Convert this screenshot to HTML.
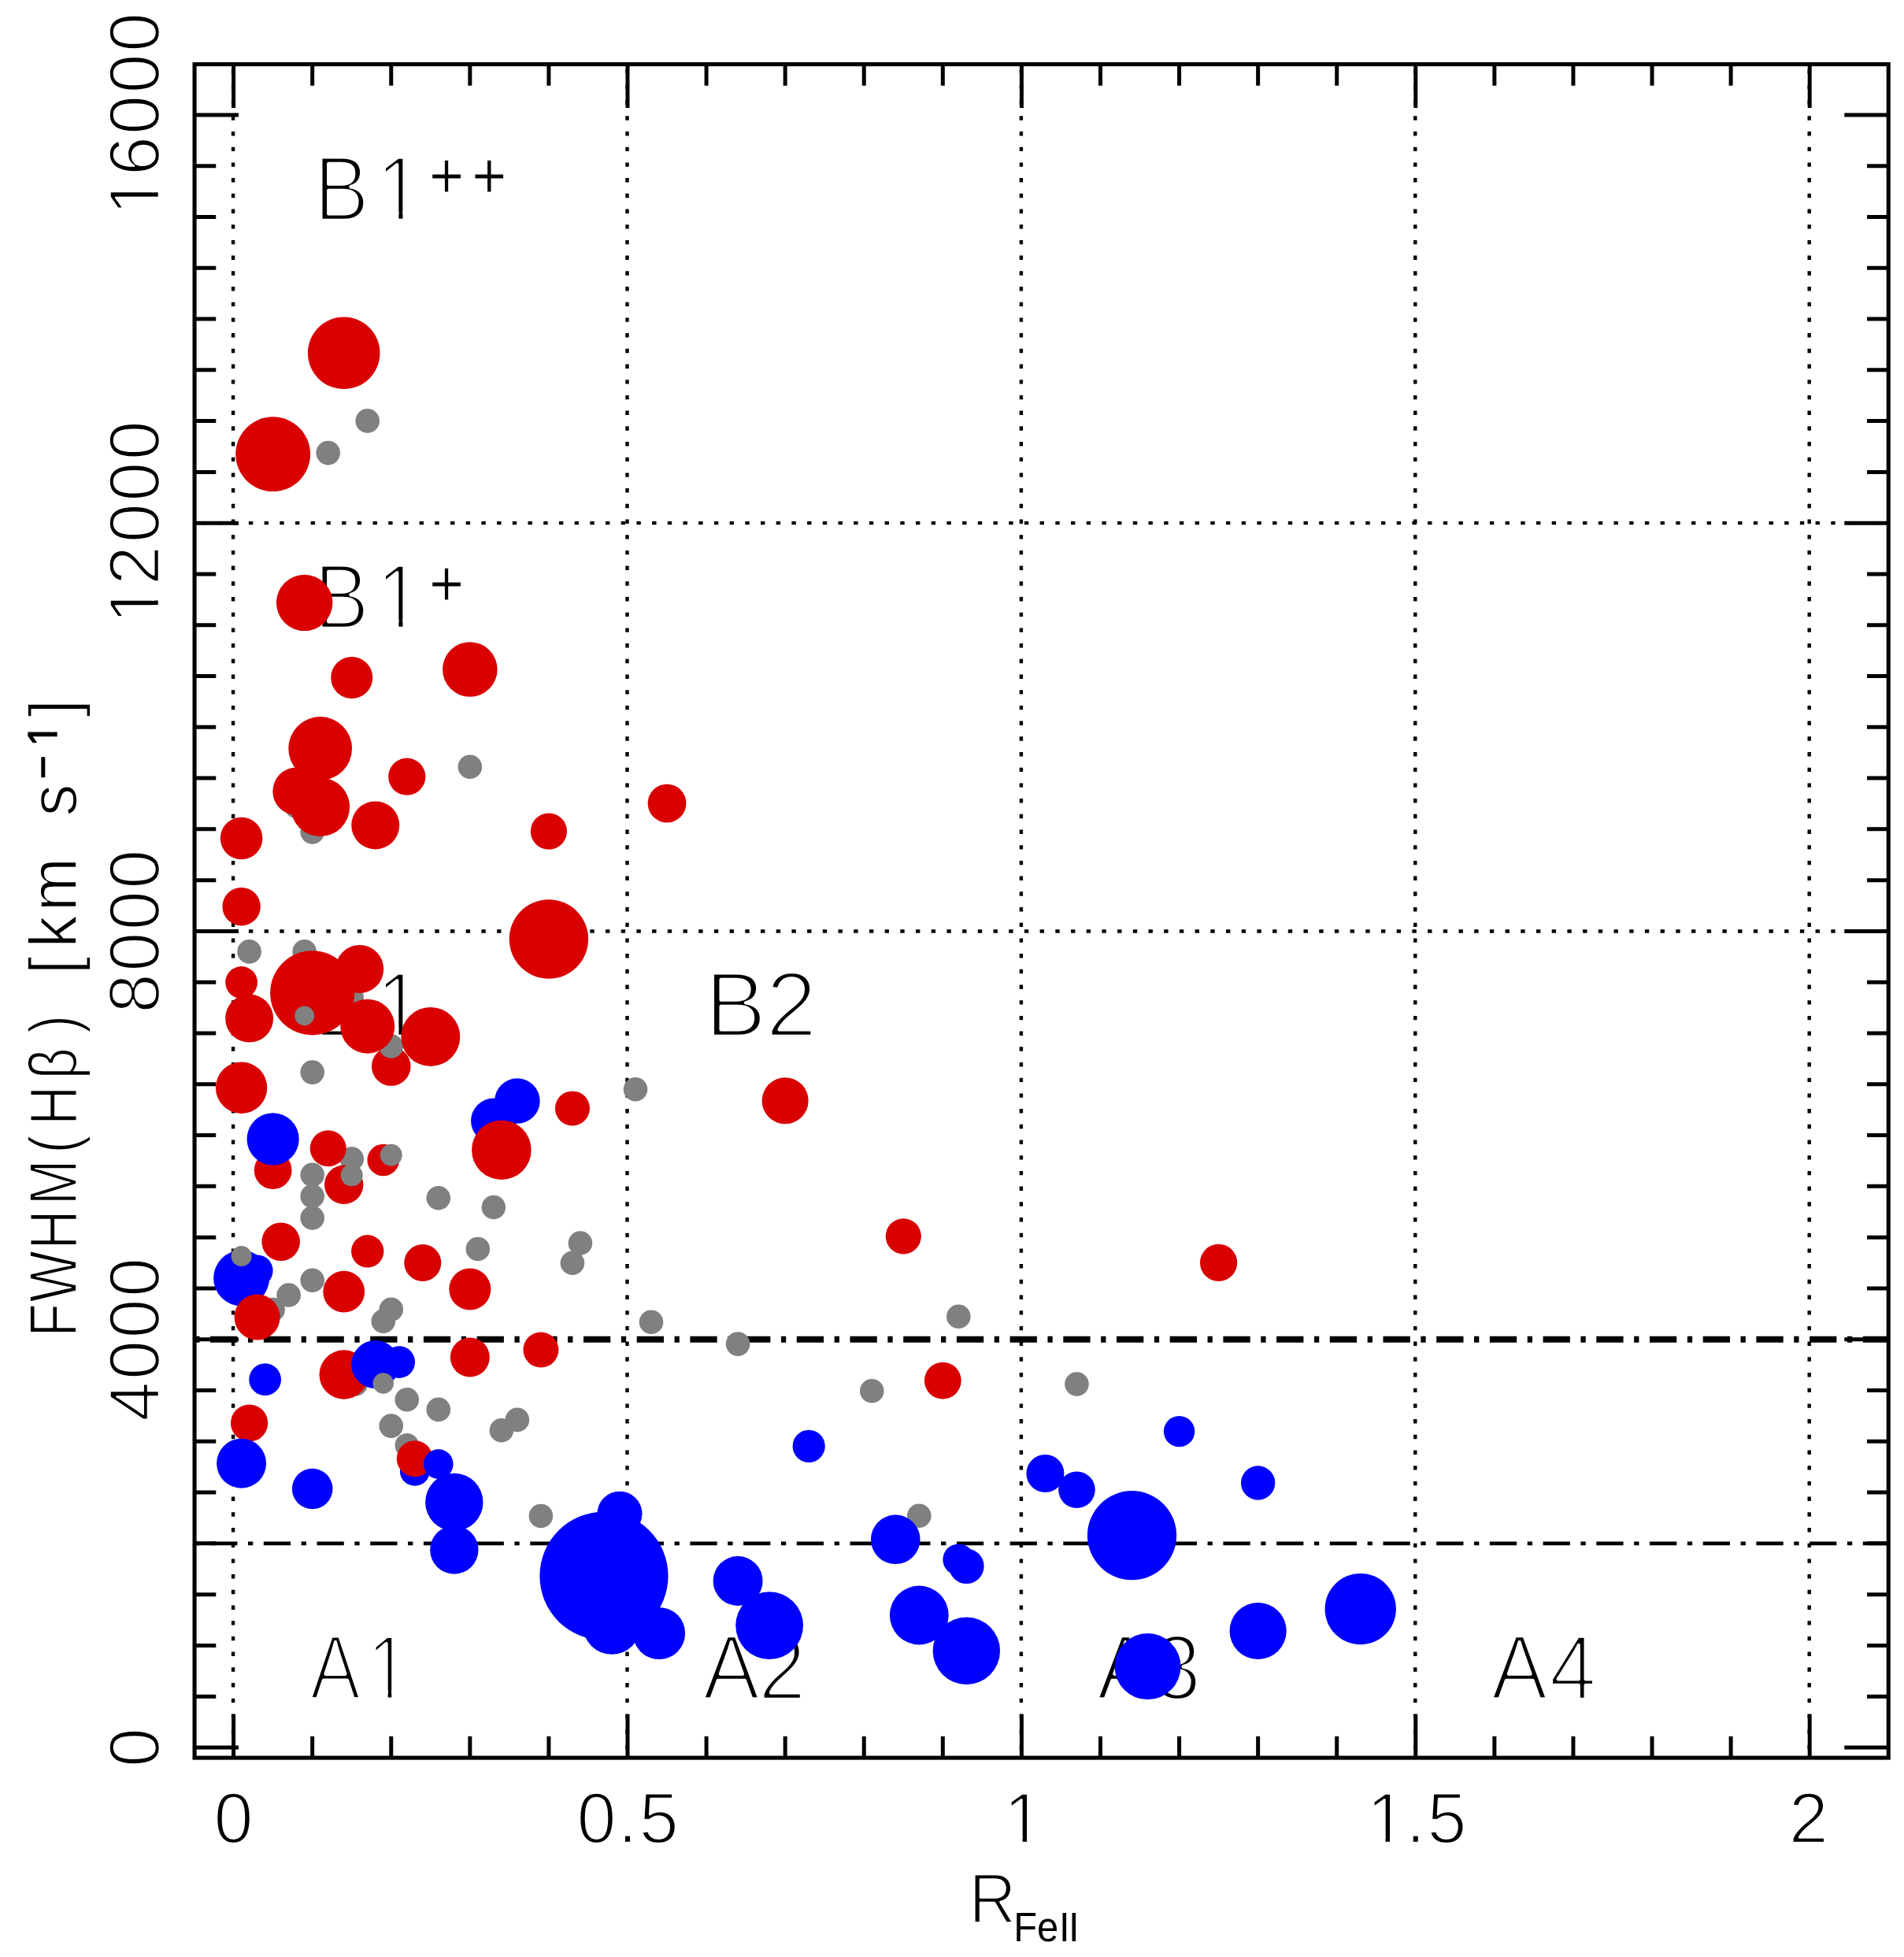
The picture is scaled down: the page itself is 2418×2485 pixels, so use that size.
<!DOCTYPE html>
<html lang="en"><head><meta charset="utf-8"><title>FWHM(Hβ) versus RFeII</title>
<style>
html,body{margin:0;padding:0;background:#fff;overflow:hidden}
svg{display:block}
text{font-family:"Liberation Sans",sans-serif;fill:#000;stroke-linejoin:round;white-space:pre}
.dot{fill:none;stroke:#000;stroke-width:4.4;stroke-dasharray:5.4 14.3}
.dd{fill:none;stroke:#000;stroke-dasharray:34.3 13.55 6.3 13.55}
</style></head>
<body>
<svg width="2418" height="2485" viewBox="0 0 2418 2485">
<rect width="2418" height="2485" fill="#fff"/>
<defs><mask id="m0" maskUnits="userSpaceOnUse" x="333.76" y="-175.29" width="403.33" height="257.09"><rect x="333.76" y="-175.29" width="403.33" height="257.09" fill="#fff"/><rect x="567.71" y="-11.74" width="25.89" height="17.55"/><rect x="599.11" y="-11.74" width="24.98" height="17.55"/></mask><mask id="m1" maskUnits="userSpaceOnUse" x="302.89" y="-175.29" width="403.34" height="257.09"><rect x="302.89" y="-175.29" width="403.34" height="257.09" fill="#fff"/><rect x="536.85" y="-11.65" width="25.8" height="17.37"/><rect x="568.34" y="-11.65" width="24.89" height="17.37"/></mask><mask id="m2" maskUnits="userSpaceOnUse" x="302.89" y="-175.29" width="478.09" height="257.09"><rect x="302.89" y="-175.29" width="478.09" height="257.09" fill="#fff"/><rect x="536.85" y="-11.65" width="25.8" height="17.37"/><rect x="568.34" y="-11.65" width="24.89" height="17.37"/></mask><mask id="m3" maskUnits="userSpaceOnUse" x="302.89" y="-175.29" width="538.31" height="257.09"><rect x="302.89" y="-175.29" width="538.31" height="257.09" fill="#fff"/><rect x="536.85" y="-11.65" width="25.8" height="17.37"/><rect x="568.34" y="-11.65" width="24.89" height="17.37"/></mask><mask id="m4" maskUnits="userSpaceOnUse" x="1166.68" y="-135" width="243" height="198"><rect x="1166.68" y="-135" width="243" height="198" fill="#fff"/><rect x="1278.53" y="-8.57" width="20.03" height="13.22"/><rect x="1304.01" y="-8.57" width="19.32" height="13.22"/></mask><mask id="m5" maskUnits="userSpaceOnUse" x="1627.63" y="-135" width="319.98" height="198"><rect x="1627.63" y="-135" width="319.98" height="198" fill="#fff"/><rect x="1739.48" y="-8.57" width="20.03" height="13.22"/><rect x="1764.96" y="-8.57" width="19.32" height="13.22"/></mask><mask id="m6" maskUnits="userSpaceOnUse" x="2100.12" y="-135" width="450.69" height="198"><rect x="2100.12" y="-135" width="450.69" height="198" fill="#fff"/><rect x="2211.97" y="-8.57" width="20.03" height="13.22"/><rect x="2237.45" y="-8.57" width="19.32" height="13.22"/></mask><mask id="m7" maskUnits="userSpaceOnUse" x="2618.4" y="-135" width="450.69" height="198"><rect x="2618.4" y="-135" width="450.69" height="198" fill="#fff"/><rect x="2730.25" y="-8.57" width="20.03" height="13.22"/><rect x="2755.73" y="-8.57" width="19.32" height="13.22"/></mask><mask id="m8" maskUnits="userSpaceOnUse" x="1830.01" y="-126.67" width="357.76" height="185.78"><rect x="1830.01" y="-126.67" width="357.76" height="185.78" fill="#fff"/><rect x="2024.26" y="-30.17" width="11.49" height="9.32"/><rect x="2041.78" y="-30.17" width="11.08" height="9.32"/></mask></defs>
<g id="labels">
<text transform="translate(0 2157.6) scale(0.83 1)" font-size="116.86" x="474 561.8" stroke="#fff" stroke-width="4.82" mask="url(#m0)">A1</text>
<text transform="translate(0 2157.6) scale(0.93 1)" font-size="116.86" x="959.66 1035.6" stroke="#fff" stroke-width="4.56">A2</text>
<text transform="translate(0 2157.6) scale(0.93 1)" font-size="116.86" x="1497.73 1574.92" stroke="#fff" stroke-width="4.56">A3</text>
<text transform="translate(0 2157.6) scale(0.92 1)" font-size="116.86" x="2058.34 2138.67" stroke="#fff" stroke-width="4.59">A4</text>
<text transform="translate(0 1316.4) scale(0.9 1)" font-size="116.86" x="443.13 530.94" stroke="#fff" stroke-width="4.64" mask="url(#m1)">B1</text>
<text transform="translate(0 1316.4) scale(1 1)" font-size="116.86" x="895.15 972.48" stroke="#fff" stroke-width="4.4">B2</text>
<text transform="translate(0 797.8) scale(0.9 1)" font-size="116.86" x="443.13 530.94" stroke="#fff" stroke-width="4.64" mask="url(#m2)">B1<tspan font-size="84" x="605.69" y="-29.27" stroke-width="1.1">+</tspan></text>
<text transform="translate(0 279.8) scale(0.9 1)" font-size="116.86" x="443.13 530.94" stroke="#fff" stroke-width="4.64" mask="url(#m3)">B1<tspan font-size="84" x="605.69 665.92" y="-29.27" stroke-width="1.1">++</tspan></text>
<text transform="translate(0 2339.85) scale(1 1)" font-size="90" x="271.57" stroke="#fff" stroke-width="2.5">0</text>
<text transform="translate(0 2339.85) scale(1 1)" font-size="90" x="732.52 784.5 811.81" stroke="#fff" stroke-width="2.5">0.5</text>
<text transform="translate(0 2339.85) scale(1 1)" font-size="90" x="1274.68" stroke="#fff" stroke-width="2.5" mask="url(#m4)">1</text>
<text transform="translate(0 2339.85) scale(1 1)" font-size="90" x="1735.63 1785.3 1812.61" stroke="#fff" stroke-width="2.5" mask="url(#m5)">1.5</text>
<text transform="translate(0 2339.85) scale(1 1)" font-size="90" x="2271.82" stroke="#fff" stroke-width="2.5">2</text>
<text transform="translate(0 2440.9) scale(0.93 1)" font-size="89.24" x="1323.12" stroke="#fff" stroke-width="2.7">R<tspan font-size="52.62" x="1384.22 1416.01 1446.19 1459.09" y="23.9" stroke="none">FeII</tspan></text>
<g transform="rotate(-90)">
<text transform="translate(-3000 202.25) scale(1 1)" font-size="90" x="755.97" stroke="#fff" stroke-width="2.5">0</text>
<text transform="translate(-3000 202.25) scale(1 1)" font-size="90" x="1195.29 1248 1300.5 1353" stroke="#fff" stroke-width="2.5">4000</text>
<text transform="translate(-3000 202.25) scale(1 1)" font-size="90" x="1713.58 1766.28 1818.78 1871.28" stroke="#fff" stroke-width="2.5">8000</text>
<text transform="translate(-3000 202.25) scale(1 1)" font-size="90" x="2208.12 2256.96 2310.81 2363.31 2415.81" stroke="#fff" stroke-width="2.5" mask="url(#m6)">12000</text>
<text transform="translate(-3000 202.25) scale(1 1)" font-size="90" x="2726.4 2776.99 2829.09 2881.59 2934.09" stroke="#fff" stroke-width="2.5" mask="url(#m7)">16000</text>
<text transform="translate(-2460 96.55) scale(0.82 1)" font-size="84.45" x="929.75 983.52 1065.28 1133.91 1213.99 1257.54 1329.09 1400.14" stroke="#fff" stroke-width="1.88">FWHM(Hβ)</text>
<text transform="translate(-2910 96.55) scale(0.97 1)" font-size="84.45" x="1724.56 1759.23 1806.92" stroke="#fff" stroke-width="1.73">[km</text>
<text transform="translate(-2910 96.55) scale(0.97 1)" font-size="84.45" x="1931.35" stroke="#fff" stroke-width="1.83" mask="url(#m8)">s<tspan font-size="52.42" x="1980.45 2023.26" y="-24.95" stroke="#000" stroke-width="1.3">−1</tspan><tspan x="2061.1" y="0">]</tspan></text>
</g>
</g>
<g id="axes">
<path d="M296.1 81.6V2232.05" class="dot" stroke-dashoffset="-6.6"/>
<path d="M796.5 81.6V2232.05" class="dot" stroke-dashoffset="-6.6"/>
<path d="M1296.9 81.6V2232.05" class="dot" stroke-dashoffset="-6.6"/>
<path d="M1797.3 81.6V2232.05" class="dot" stroke-dashoffset="-6.6"/>
<path d="M2297.7 81.6V2232.05" class="dot" stroke-dashoffset="-6.6"/>
<path d="M247.05 1182.44H2398.25" class="dot" stroke-dashoffset="-9.75"/>
<path d="M247.05 664.16H2398.25" class="dot" stroke-dashoffset="-9.75"/>
<path d="M247.05 1700.72H2398.25" class="dd" stroke-width="8" stroke-dashoffset="-20.05"/>
<path d="M247.05 1959.86H2398.25" class="dd" stroke-width="4.8" stroke-dashoffset="-20.05"/>
<path d="M296.6 81.6v55.3M296.6 2232.05v-55.3M396.68 81.6v27.2M396.68 2232.05v-27.2M496.76 81.6v27.2M496.76 2232.05v-27.2M596.84 81.6v27.2M596.84 2232.05v-27.2M696.92 81.6v27.2M696.92 2232.05v-27.2M797 81.6v55.3M797 2232.05v-55.3M897.08 81.6v27.2M897.08 2232.05v-27.2M997.16 81.6v27.2M997.16 2232.05v-27.2M1097.24 81.6v27.2M1097.24 2232.05v-27.2M1197.32 81.6v27.2M1197.32 2232.05v-27.2M1297.4 81.6v55.3M1297.4 2232.05v-55.3M1397.48 81.6v27.2M1397.48 2232.05v-27.2M1497.56 81.6v27.2M1497.56 2232.05v-27.2M1597.64 81.6v27.2M1597.64 2232.05v-27.2M1697.72 81.6v27.2M1697.72 2232.05v-27.2M1797.8 81.6v55.3M1797.8 2232.05v-55.3M1897.88 81.6v27.2M1897.88 2232.05v-27.2M1997.96 81.6v27.2M1997.96 2232.05v-27.2M2098.04 81.6v27.2M2098.04 2232.05v-27.2M2198.12 81.6v27.2M2198.12 2232.05v-27.2M2298.2 81.6v55.3M2298.2 2232.05v-55.3M247.05 2219h56M2398.25 2219h-56M247.05 2154.22h27.2M2398.25 2154.22h-27.2M247.05 2089.43h27.2M2398.25 2089.43h-27.2M247.05 2024.64h27.2M2398.25 2024.64h-27.2M247.05 1959.86h27.2M2398.25 1959.86h-27.2M247.05 1895.08h27.2M2398.25 1895.08h-27.2M247.05 1830.29h27.2M2398.25 1830.29h-27.2M247.05 1765.51h27.2M2398.25 1765.51h-27.2M247.05 1700.72h56M2398.25 1700.72h-56M247.05 1635.93h27.2M2398.25 1635.93h-27.2M247.05 1571.15h27.2M2398.25 1571.15h-27.2M247.05 1506.37h27.2M2398.25 1506.37h-27.2M247.05 1441.58h27.2M2398.25 1441.58h-27.2M247.05 1376.8h27.2M2398.25 1376.8h-27.2M247.05 1312.01h27.2M2398.25 1312.01h-27.2M247.05 1247.22h27.2M2398.25 1247.22h-27.2M247.05 1182.44h56M2398.25 1182.44h-56M247.05 1117.65h27.2M2398.25 1117.65h-27.2M247.05 1052.87h27.2M2398.25 1052.87h-27.2M247.05 988.09h27.2M2398.25 988.09h-27.2M247.05 923.3h27.2M2398.25 923.3h-27.2M247.05 858.52h27.2M2398.25 858.52h-27.2M247.05 793.73h27.2M2398.25 793.73h-27.2M247.05 728.95h27.2M2398.25 728.95h-27.2M247.05 664.16h56M2398.25 664.16h-56M247.05 599.38h27.2M2398.25 599.38h-27.2M247.05 534.59h27.2M2398.25 534.59h-27.2M247.05 469.81h27.2M2398.25 469.81h-27.2M247.05 405.02h27.2M2398.25 405.02h-27.2M247.05 340.24h27.2M2398.25 340.24h-27.2M247.05 275.45h27.2M2398.25 275.45h-27.2M247.05 210.67h27.2M2398.25 210.67h-27.2M247.05 145.88h56M2398.25 145.88h-56" fill="none" stroke="#000" stroke-width="5"/>
<rect x="247.05" y="81.6" width="2151.2" height="2150.45" fill="none" stroke="#000" stroke-width="5.1"/>
</g>
<g id="points">
<g fill="#d90000"><circle cx="496.76" cy="1354" r="24.8"/></g>
<g fill="#808080"><circle cx="466.74" cy="534.4" r="15.3"/><circle cx="416.7" cy="575.1" r="15.3"/><circle cx="596.84" cy="973.8" r="15.3"/><circle cx="396.68" cy="1056.5" r="15.3"/><circle cx="376.66" cy="1024" r="15.3"/><circle cx="316.62" cy="1208.4" r="15.3"/><circle cx="386.67" cy="1208.4" r="15.3"/><circle cx="446.72" cy="1267" r="15.3"/><circle cx="396.68" cy="1361.6" r="15.3"/><circle cx="446.72" cy="1471.5" r="15.3"/><circle cx="396.68" cy="1491.7" r="15.3"/><circle cx="396.68" cy="1519" r="15.3"/><circle cx="396.68" cy="1546.5" r="15.3"/><circle cx="556.81" cy="1521.2" r="15.3"/><circle cx="626.86" cy="1533" r="15.3"/><circle cx="606.85" cy="1586" r="15.3"/><circle cx="736.95" cy="1578.5" r="15.3"/><circle cx="726.94" cy="1603.7" r="15.3"/><circle cx="396.68" cy="1625.7" r="15.3"/><circle cx="366.66" cy="1644.5" r="15.3"/><circle cx="346.64" cy="1663" r="15.3"/><circle cx="496.76" cy="1662.7" r="15.3"/><circle cx="486.75" cy="1677.8" r="15.3"/><circle cx="516.78" cy="1777.2" r="15.3"/><circle cx="556.81" cy="1789.9" r="15.3"/><circle cx="496.76" cy="1810.6" r="15.3"/><circle cx="516.78" cy="1835.3" r="15.3"/><circle cx="656.89" cy="1802.9" r="15.3"/><circle cx="636.87" cy="1816.3" r="15.3"/><circle cx="686.91" cy="1925" r="15.3"/><circle cx="807.01" cy="1383.3" r="15.3"/><circle cx="827.02" cy="1678.8" r="15.3"/><circle cx="1217.34" cy="1671.7" r="15.3"/><circle cx="937.11" cy="1706.6" r="15.3"/><circle cx="1107.25" cy="1766.2" r="15.3"/><circle cx="1167.3" cy="1924.8" r="15.3"/><circle cx="1367.46" cy="1757.5" r="15.3"/><circle cx="496.76" cy="1328.5" r="15.3"/><circle cx="451.52" cy="1757.5" r="15.3"/></g>
<g fill="#0000ff"><circle cx="656.89" cy="1398" r="28.8"/><circle cx="626.86" cy="1423.3" r="28.8"/><circle cx="306.61" cy="1623" r="35.5"/><circle cx="326.62" cy="1613.5" r="20"/><circle cx="526.78" cy="1867.9" r="18.9"/></g>
<g fill="#d90000"><circle cx="436.71" cy="448.3" r="45.8"/><circle cx="346.64" cy="576.7" r="47.4"/><circle cx="386.67" cy="765.4" r="35.7"/><circle cx="446.72" cy="860.5" r="26.5"/><circle cx="596.84" cy="850" r="34.8"/><circle cx="406.69" cy="950.5" r="40.4"/><circle cx="516.78" cy="986.2" r="23.6"/><circle cx="376.66" cy="1004.8" r="30.3"/><circle cx="406.69" cy="1024.7" r="37.4"/><circle cx="476.74" cy="1047.9" r="30.5"/><circle cx="306.61" cy="1064.5" r="26.8"/><circle cx="696.92" cy="1055.7" r="23.1"/><circle cx="306.61" cy="1151.2" r="24.2"/><circle cx="696.92" cy="1192.5" r="50.2"/><circle cx="456.73" cy="1230.5" r="30.5"/><circle cx="306.61" cy="1247.5" r="20.4"/><circle cx="396.68" cy="1260.8" r="53.6"/><circle cx="466.74" cy="1303.2" r="34.5"/><circle cx="316.62" cy="1293.1" r="30.5"/><circle cx="546.8" cy="1316.4" r="37.5"/><circle cx="306.61" cy="1381.2" r="32.7"/><circle cx="726.94" cy="1407.4" r="22"/><circle cx="636.87" cy="1460.2" r="37.8"/><circle cx="416.7" cy="1458.2" r="23"/><circle cx="346.64" cy="1486.2" r="23.9"/><circle cx="486.75" cy="1473" r="20.3"/><circle cx="436.71" cy="1504.2" r="24.7"/><circle cx="356.65" cy="1576.8" r="24.3"/><circle cx="466.74" cy="1588.8" r="20.7"/><circle cx="536.79" cy="1603.5" r="23.5"/><circle cx="436.71" cy="1640.2" r="26.4"/><circle cx="596.84" cy="1637" r="26.5"/><circle cx="326.62" cy="1672.6" r="29"/><circle cx="596.84" cy="1723.5" r="25"/><circle cx="686.91" cy="1714" r="22.5"/><circle cx="436.71" cy="1745.5" r="31.2"/><circle cx="316.62" cy="1807" r="23.6"/><circle cx="526.78" cy="1852.3" r="23"/><circle cx="847.04" cy="1020.1" r="24.4"/><circle cx="997.16" cy="1397.7" r="29.5"/><circle cx="1147.28" cy="1569.8" r="22.6"/><circle cx="1197.32" cy="1753.1" r="23.4"/><circle cx="1547.6" cy="1603.4" r="23.6"/></g>
<g fill="#0000ff"><circle cx="346.64" cy="1446.4" r="33.1"/><circle cx="476.74" cy="1732.5" r="30.5"/><circle cx="506.77" cy="1729.6" r="20.3"/><circle cx="336.63" cy="1751.7" r="20.4"/><circle cx="306.61" cy="1858.2" r="31.5"/><circle cx="396.68" cy="1890.5" r="25.8"/><circle cx="556.81" cy="1859.1" r="18.8"/><circle cx="576.82" cy="1907.5" r="36.7"/><circle cx="576.82" cy="1968" r="30.7"/><circle cx="766.98" cy="2001.2" r="81.6"/><circle cx="786.99" cy="1922.2" r="28.5"/><circle cx="776.98" cy="2064" r="36.8"/><circle cx="837.03" cy="2074" r="33.1"/><circle cx="1027.18" cy="1836.4" r="20.6"/><circle cx="1137.27" cy="1954.8" r="31.3"/><circle cx="937.11" cy="2007.5" r="31.5"/><circle cx="977.14" cy="2064.1" r="42.9"/><circle cx="1217.34" cy="1980.4" r="20"/><circle cx="1227.34" cy="1988.8" r="22.3"/><circle cx="1167.3" cy="2051" r="37.4"/><circle cx="1227.34" cy="2096.2" r="42.7"/><circle cx="1327.42" cy="1871" r="24"/><circle cx="1367.46" cy="1891.7" r="23.3"/><circle cx="1497.56" cy="1817.6" r="19.7"/><circle cx="1597.64" cy="1883" r="21.7"/><circle cx="1437.51" cy="1949.7" r="56.6"/><circle cx="1727.74" cy="2043.1" r="45.2"/><circle cx="1597.64" cy="2071" r="36.1"/><circle cx="1457.53" cy="2116.1" r="42"/></g>
<g fill="#808080"><circle cx="386.67" cy="1289.8" r="12.4"/><circle cx="496.76" cy="1466.7" r="14"/><circle cx="446.72" cy="1492.3" r="14"/><circle cx="306.61" cy="1595" r="13"/><circle cx="486.75" cy="1756.5" r="13.2"/></g>
</g>
</svg>
</body></html>
